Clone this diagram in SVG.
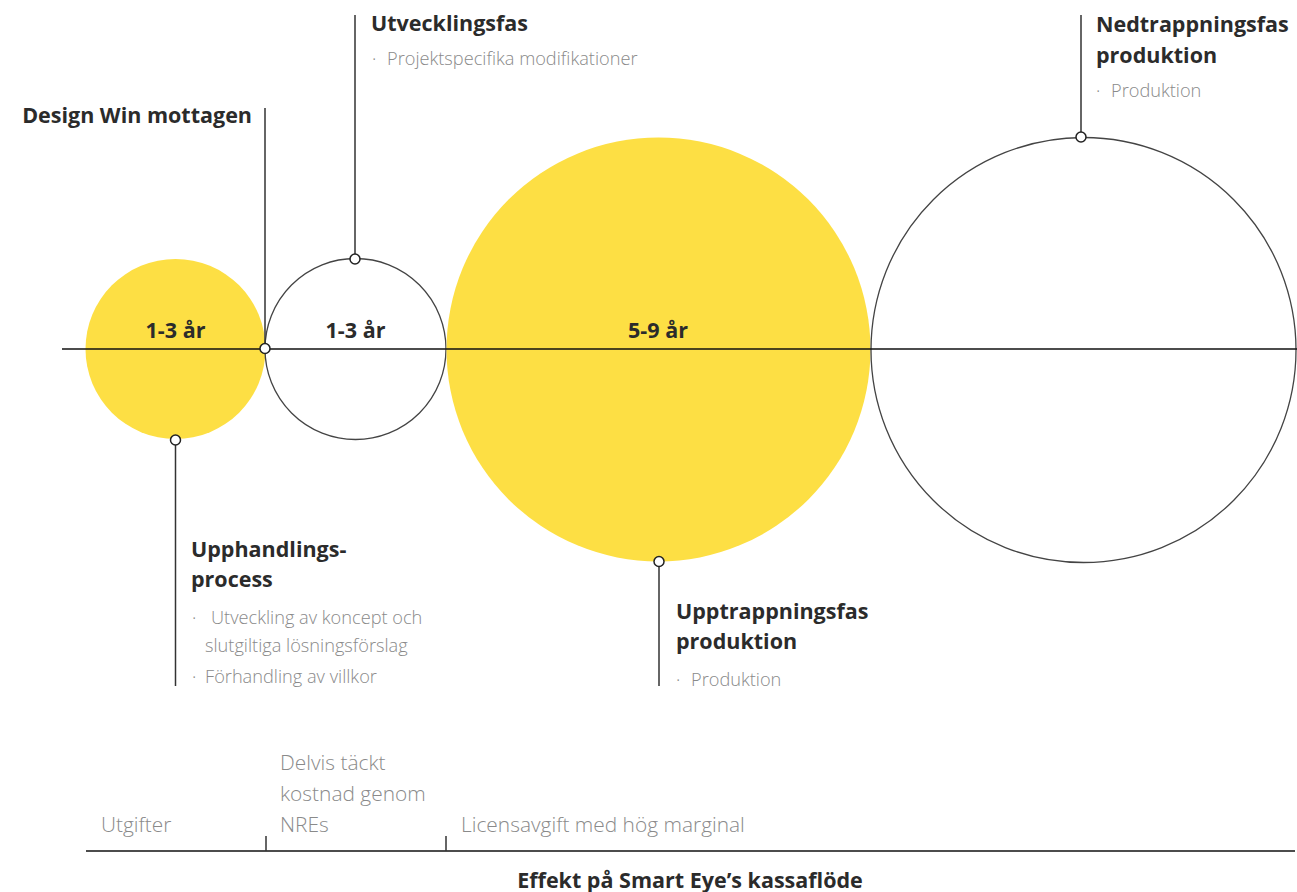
<svg xmlns="http://www.w3.org/2000/svg" width="1297" height="892" viewBox="0 0 1297 892">
<style>
.t{font-family:"Open Sans","Noto Sans","Liberation Sans",sans-serif;font-weight:700;font-size:21.5px;fill:#2b2b2b}
.l{font-family:"Open Sans","Noto Sans","Liberation Sans",sans-serif;font-weight:300;font-size:18.2px;fill:#8a8a8a}
.b{font-family:"Open Sans","Noto Sans","Liberation Sans",sans-serif;font-weight:300;font-size:20.9px;fill:#8a8a8a}
.ln{stroke:#333;stroke-width:1.5;fill:none}
.ax{stroke:#111;stroke-width:1.5;fill:none}
.dot{fill:#fff;stroke:#222;stroke-width:1.5}
.y{fill:#fddf44}
.w{fill:#fff;stroke:#444;stroke-width:1.3}
</style>
<rect width="1297" height="892" fill="#fff"/>
<g id="phase1">
<circle class="y" cx="175.5" cy="349" r="90"/>
<text class="t" x="175.5" y="338" text-anchor="middle">1-3 år</text>
</g>
<g id="phase2">
<circle class="w" cx="355.5" cy="349" r="90.5"/>
<text class="t" x="355.5" y="338" text-anchor="middle">1-3 år</text>
</g>
<g id="phase3">
<circle class="y" cx="658.5" cy="349.5" r="212"/>
<text class="t" x="658" y="338" text-anchor="middle">5-9 år</text>
</g>
<g id="phase4">
<circle class="w" cx="1083.5" cy="350" r="212.5"/>
</g>
<g id="connectors">
<line class="ax" x1="62" y1="349" x2="1297" y2="349"/>
<line class="ln" x1="265" y1="108" x2="265" y2="349"/>
<line class="ln" x1="355" y1="15" x2="355" y2="259"/>
<line class="ln" x1="175.5" y1="440" x2="175.5" y2="686"/>
<line class="ln" x1="659" y1="561" x2="659" y2="686"/>
<line class="ln" x1="1081" y1="15" x2="1081" y2="137"/>
<circle class="dot" cx="265" cy="348.5" r="5"/>
<circle class="dot" cx="355" cy="259" r="5"/>
<circle class="dot" cx="175.5" cy="440" r="5"/>
<circle class="dot" cx="659" cy="561.5" r="5"/>
<circle class="dot" cx="1081" cy="137" r="5"/>
</g>
<g id="label-designwin">
<text class="t" x="252" y="123" text-anchor="end">Design Win mottagen</text>
</g>
<g id="label-utveckling">
<text class="t" x="371" y="31">Utvecklingsfas</text>
<text class="l" x="372" y="65">·</text>
<text class="l" x="387" y="65">Projektspecifika modifikationer</text>
</g>
<g id="label-upphandling">
<text class="t" x="191" y="557">Upphandlings-</text>
<text class="t" x="191" y="587">process</text>
<text class="l" x="192" y="624">·</text>
<text class="l" x="211" y="624">Utveckling av koncept och</text>
<text class="l" x="205" y="652">slutgiltiga lösningsförslag</text>
<text class="l" x="192" y="683">·</text>
<text class="l" x="205" y="683">Förhandling av villkor</text>
</g>
<g id="label-upptrappning">
<text class="t" x="676" y="619">Upptrappningsfas</text>
<text class="t" x="676" y="649">produktion</text>
<text class="l" x="676" y="686">·</text>
<text class="l" x="691" y="686">Produktion</text>
</g>
<g id="label-nedtrappning">
<text class="t" x="1096" y="32">Nedtrappningsfas</text>
<text class="t" x="1096" y="63">produktion</text>
<text class="l" x="1096" y="97">·</text>
<text class="l" x="1111" y="97">Produktion</text>
</g>
<g id="cashflow">
<line class="ax" x1="86" y1="851" x2="1295" y2="851"/>
<line class="ln" x1="266" y1="836" x2="266" y2="851"/>
<line class="ln" x1="446" y1="836" x2="446" y2="851"/>
<text class="b" x="101" y="832">Utgifter</text>
<text class="b" x="280" y="770">Delvis täckt</text>
<text class="b" x="280" y="801">kostnad genom</text>
<text class="b" x="280" y="832">NREs</text>
<text class="b" x="461" y="832">Licensavgift med hög marginal</text>
<text class="t" x="690" y="888" text-anchor="middle">Effekt på Smart Eye’s kassaflöde</text>
</g>
</svg>
